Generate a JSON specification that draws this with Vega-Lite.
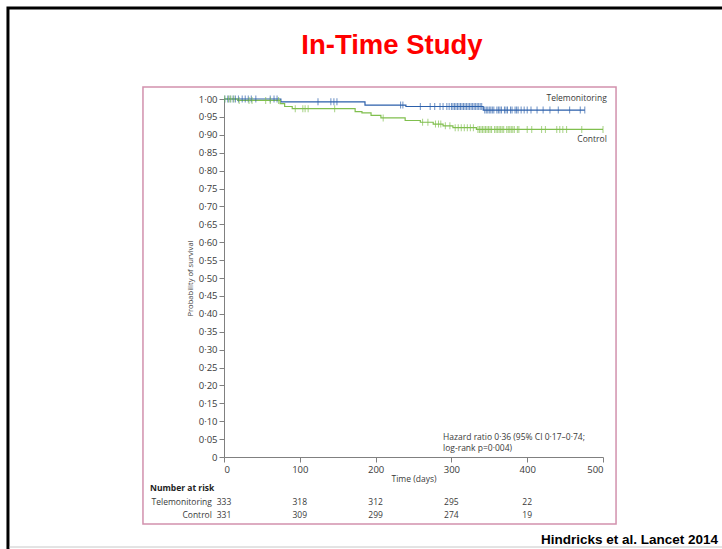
{
  "$schema": "https://vega.github.io/schema/vega-lite/v6.json",
  "autosize": {"type": "none"},
  "padding": {"left": 224, "top": 99, "right": 119, "bottom": 92},
  "width": 379,
  "height": 358,
  "background": "white",
  "config": {"view": {"stroke": null}, "font": "Open Sans"},
  "resolve": {"axis": {"x": "independent", "y": "independent"}},
  "datasets": {
    "curves": [
      {"group": "Telemonitoring", "day": 0, "surv": 1.0},
      {"group": "Telemonitoring", "day": 75, "surv": 0.992},
      {"group": "Telemonitoring", "day": 186, "surv": 0.983},
      {"group": "Telemonitoring", "day": 240, "surv": 0.979},
      {"group": "Telemonitoring", "day": 342, "surv": 0.969},
      {"group": "Telemonitoring", "day": 476, "surv": 0.969},
      {"group": "Control", "day": 0, "surv": 1.0},
      {"group": "Control", "day": 18, "surv": 0.996},
      {"group": "Control", "day": 74, "surv": 0.987},
      {"group": "Control", "day": 80, "surv": 0.979},
      {"group": "Control", "day": 90, "surv": 0.973},
      {"group": "Control", "day": 173, "surv": 0.965},
      {"group": "Control", "day": 182, "surv": 0.961},
      {"group": "Control", "day": 194, "surv": 0.954},
      {"group": "Control", "day": 207, "surv": 0.947},
      {"group": "Control", "day": 239, "surv": 0.94},
      {"group": "Control", "day": 259, "surv": 0.935},
      {"group": "Control", "day": 276, "surv": 0.93},
      {"group": "Control", "day": 289, "surv": 0.925},
      {"group": "Control", "day": 302, "surv": 0.92},
      {"group": "Control", "day": 333, "surv": 0.915},
      {"group": "Control", "day": 500, "surv": 0.915}
    ],
    "censor": [
      {"group": "Telemonitoring", "day": 1, "surv": 1.0},
      {"group": "Telemonitoring", "day": 5, "surv": 1.0},
      {"group": "Telemonitoring", "day": 8, "surv": 1.0},
      {"group": "Telemonitoring", "day": 12, "surv": 1.0},
      {"group": "Telemonitoring", "day": 15, "surv": 1.0},
      {"group": "Telemonitoring", "day": 19, "surv": 1.0},
      {"group": "Telemonitoring", "day": 24, "surv": 1.0},
      {"group": "Telemonitoring", "day": 28, "surv": 1.0},
      {"group": "Telemonitoring", "day": 32, "surv": 1.0},
      {"group": "Telemonitoring", "day": 36, "surv": 1.0},
      {"group": "Telemonitoring", "day": 42, "surv": 1.0},
      {"group": "Telemonitoring", "day": 61, "surv": 1.0},
      {"group": "Telemonitoring", "day": 66, "surv": 1.0},
      {"group": "Telemonitoring", "day": 70, "surv": 1.0},
      {"group": "Telemonitoring", "day": 124, "surv": 0.992},
      {"group": "Telemonitoring", "day": 141, "surv": 0.992},
      {"group": "Telemonitoring", "day": 145, "surv": 0.992},
      {"group": "Telemonitoring", "day": 149, "surv": 0.992},
      {"group": "Telemonitoring", "day": 233, "surv": 0.983},
      {"group": "Telemonitoring", "day": 236, "surv": 0.983},
      {"group": "Telemonitoring", "day": 259, "surv": 0.979},
      {"group": "Telemonitoring", "day": 272, "surv": 0.979},
      {"group": "Telemonitoring", "day": 278, "surv": 0.979},
      {"group": "Telemonitoring", "day": 285, "surv": 0.979},
      {"group": "Telemonitoring", "day": 289, "surv": 0.979},
      {"group": "Telemonitoring", "day": 294, "surv": 0.979},
      {"group": "Telemonitoring", "day": 297, "surv": 0.979},
      {"group": "Telemonitoring", "day": 300, "surv": 0.979},
      {"group": "Telemonitoring", "day": 302, "surv": 0.979},
      {"group": "Telemonitoring", "day": 304, "surv": 0.979},
      {"group": "Telemonitoring", "day": 306, "surv": 0.979},
      {"group": "Telemonitoring", "day": 308, "surv": 0.979},
      {"group": "Telemonitoring", "day": 310, "surv": 0.979},
      {"group": "Telemonitoring", "day": 312, "surv": 0.979},
      {"group": "Telemonitoring", "day": 314, "surv": 0.979},
      {"group": "Telemonitoring", "day": 316, "surv": 0.979},
      {"group": "Telemonitoring", "day": 318, "surv": 0.979},
      {"group": "Telemonitoring", "day": 320, "surv": 0.979},
      {"group": "Telemonitoring", "day": 322, "surv": 0.979},
      {"group": "Telemonitoring", "day": 324, "surv": 0.979},
      {"group": "Telemonitoring", "day": 326, "surv": 0.979},
      {"group": "Telemonitoring", "day": 328, "surv": 0.979},
      {"group": "Telemonitoring", "day": 330, "surv": 0.979},
      {"group": "Telemonitoring", "day": 332, "surv": 0.979},
      {"group": "Telemonitoring", "day": 334, "surv": 0.979},
      {"group": "Telemonitoring", "day": 336, "surv": 0.979},
      {"group": "Telemonitoring", "day": 338, "surv": 0.979},
      {"group": "Telemonitoring", "day": 340, "surv": 0.979},
      {"group": "Telemonitoring", "day": 344, "surv": 0.969},
      {"group": "Telemonitoring", "day": 346, "surv": 0.969},
      {"group": "Telemonitoring", "day": 348, "surv": 0.969},
      {"group": "Telemonitoring", "day": 350, "surv": 0.969},
      {"group": "Telemonitoring", "day": 352, "surv": 0.969},
      {"group": "Telemonitoring", "day": 354, "surv": 0.969},
      {"group": "Telemonitoring", "day": 356, "surv": 0.969},
      {"group": "Telemonitoring", "day": 360, "surv": 0.969},
      {"group": "Telemonitoring", "day": 362, "surv": 0.969},
      {"group": "Telemonitoring", "day": 364, "surv": 0.969},
      {"group": "Telemonitoring", "day": 366, "surv": 0.969},
      {"group": "Telemonitoring", "day": 370, "surv": 0.969},
      {"group": "Telemonitoring", "day": 372, "surv": 0.969},
      {"group": "Telemonitoring", "day": 374, "surv": 0.969},
      {"group": "Telemonitoring", "day": 378, "surv": 0.969},
      {"group": "Telemonitoring", "day": 380, "surv": 0.969},
      {"group": "Telemonitoring", "day": 384, "surv": 0.969},
      {"group": "Telemonitoring", "day": 386, "surv": 0.969},
      {"group": "Telemonitoring", "day": 388, "surv": 0.969},
      {"group": "Telemonitoring", "day": 392, "surv": 0.969},
      {"group": "Telemonitoring", "day": 396, "surv": 0.969},
      {"group": "Telemonitoring", "day": 400, "surv": 0.969},
      {"group": "Telemonitoring", "day": 405, "surv": 0.969},
      {"group": "Telemonitoring", "day": 413, "surv": 0.969},
      {"group": "Telemonitoring", "day": 421, "surv": 0.969},
      {"group": "Telemonitoring", "day": 430, "surv": 0.969},
      {"group": "Telemonitoring", "day": 441, "surv": 0.969},
      {"group": "Telemonitoring", "day": 456, "surv": 0.969},
      {"group": "Telemonitoring", "day": 470, "surv": 0.969},
      {"group": "Telemonitoring", "day": 476, "surv": 0.969},
      {"group": "Control", "day": 1, "surv": 1.0},
      {"group": "Control", "day": 6, "surv": 1.0},
      {"group": "Control", "day": 9, "surv": 1.0},
      {"group": "Control", "day": 13, "surv": 1.0},
      {"group": "Control", "day": 20, "surv": 0.996},
      {"group": "Control", "day": 33, "surv": 0.996},
      {"group": "Control", "day": 37, "surv": 0.996},
      {"group": "Control", "day": 55, "surv": 0.996},
      {"group": "Control", "day": 61, "surv": 0.996},
      {"group": "Control", "day": 72, "surv": 0.996},
      {"group": "Control", "day": 94, "surv": 0.973},
      {"group": "Control", "day": 104, "surv": 0.973},
      {"group": "Control", "day": 107, "surv": 0.973},
      {"group": "Control", "day": 111, "surv": 0.973},
      {"group": "Control", "day": 146, "surv": 0.973},
      {"group": "Control", "day": 210, "surv": 0.947},
      {"group": "Control", "day": 262, "surv": 0.935},
      {"group": "Control", "day": 269, "surv": 0.935},
      {"group": "Control", "day": 279, "surv": 0.93},
      {"group": "Control", "day": 283, "surv": 0.93},
      {"group": "Control", "day": 286, "surv": 0.93},
      {"group": "Control", "day": 292, "surv": 0.925},
      {"group": "Control", "day": 298, "surv": 0.925},
      {"group": "Control", "day": 305, "surv": 0.92},
      {"group": "Control", "day": 309, "surv": 0.92},
      {"group": "Control", "day": 313, "surv": 0.92},
      {"group": "Control", "day": 317, "surv": 0.92},
      {"group": "Control", "day": 321, "surv": 0.92},
      {"group": "Control", "day": 325, "surv": 0.92},
      {"group": "Control", "day": 329, "surv": 0.92},
      {"group": "Control", "day": 335, "surv": 0.915},
      {"group": "Control", "day": 337, "surv": 0.915},
      {"group": "Control", "day": 339, "surv": 0.915},
      {"group": "Control", "day": 341, "surv": 0.915},
      {"group": "Control", "day": 343, "surv": 0.915},
      {"group": "Control", "day": 345, "surv": 0.915},
      {"group": "Control", "day": 347, "surv": 0.915},
      {"group": "Control", "day": 349, "surv": 0.915},
      {"group": "Control", "day": 351, "surv": 0.915},
      {"group": "Control", "day": 353, "surv": 0.915},
      {"group": "Control", "day": 357, "surv": 0.915},
      {"group": "Control", "day": 359, "surv": 0.915},
      {"group": "Control", "day": 361, "surv": 0.915},
      {"group": "Control", "day": 363, "surv": 0.915},
      {"group": "Control", "day": 365, "surv": 0.915},
      {"group": "Control", "day": 367, "surv": 0.915},
      {"group": "Control", "day": 369, "surv": 0.915},
      {"group": "Control", "day": 373, "surv": 0.915},
      {"group": "Control", "day": 375, "surv": 0.915},
      {"group": "Control", "day": 377, "surv": 0.915},
      {"group": "Control", "day": 379, "surv": 0.915},
      {"group": "Control", "day": 381, "surv": 0.915},
      {"group": "Control", "day": 383, "surv": 0.915},
      {"group": "Control", "day": 387, "surv": 0.915},
      {"group": "Control", "day": 389, "surv": 0.915},
      {"group": "Control", "day": 400, "surv": 0.915},
      {"group": "Control", "day": 406, "surv": 0.915},
      {"group": "Control", "day": 419, "surv": 0.915},
      {"group": "Control", "day": 424, "surv": 0.915},
      {"group": "Control", "day": 439, "surv": 0.915},
      {"group": "Control", "day": 443, "surv": 0.915},
      {"group": "Control", "day": 447, "surv": 0.915},
      {"group": "Control", "day": 452, "surv": 0.915},
      {"group": "Control", "day": 472, "surv": 0.915},
      {"group": "Control", "day": 500, "surv": 0.915}
    ],
    "risk": [
      {"group": "Telemonitoring", "day": 0, "n": 333},
      {"group": "Telemonitoring", "day": 100, "n": 318},
      {"group": "Telemonitoring", "day": 200, "n": 312},
      {"group": "Telemonitoring", "day": 300, "n": 295},
      {"group": "Telemonitoring", "day": 400, "n": 22},
      {"group": "Control", "day": 0, "n": 331},
      {"group": "Control", "day": 100, "n": 309},
      {"group": "Control", "day": 200, "n": 299},
      {"group": "Control", "day": 300, "n": 274},
      {"group": "Control", "day": 400, "n": 19}
    ],
    "one": [{}]
  },
  "layer": [
    {
      "data": {"name": "curves"},
      "mark": {"type": "line", "interpolate": "step-after", "strokeWidth": 1.2},
      "encoding": {
        "x": {
          "field": "day", "type": "quantitative",
          "scale": {"domain": [0, 500], "nice": false, "zero": false},
          "axis": {
            "values": [0, 100, 200, 300, 400, 500], "title": "Time (days)", "grid": false,
            "tickSize": 5, "labelPadding": 2, "labelFont": "Open Sans", "labelFontSize": 9.5, "labelColor": "#3a3a3a",
            "titleFont": "Open Sans", "titleFontSize": 8.5, "titleFontWeight": "normal", "titleColor": "#3a3a3a", "titlePadding": 1,
            "domainColor": "#808080", "tickColor": "#808080"
          }
        },
        "y": {
          "field": "surv", "type": "quantitative",
          "scale": {"domain": [0, 1], "nice": false, "zero": false},
          "axis": {
            "values": [0, 0.05, 0.1, 0.15, 0.2, 0.25, 0.3, 0.35, 0.4, 0.45, 0.5, 0.55, 0.6, 0.65, 0.7, 0.75, 0.8, 0.85, 0.9, 0.95, 1.0],
            "labelExpr": "datum.value == 0 ? '0' : replace(format(datum.value, '.2f'), '.', '·')",
            "title": "Probability of survival", "grid": false,
            "tickSize": 5, "labelPadding": 2, "labelFont": "Open Sans", "labelFontSize": 9.5, "labelColor": "#3a3a3a",
            "titleFont": "Open Sans", "titleFontSize": 7.6, "titleFontWeight": "normal", "titleColor": "#3a3a3a", "titlePadding": 4,
            "domainColor": "#808080", "tickColor": "#808080"
          }
        },
        "color": {"field": "group", "type": "nominal", "scale": {"domain": ["Telemonitoring", "Control"], "range": ["#2b5fab", "#80bf4e"]}, "legend": null}
      }
    },
    {
      "data": {"name": "censor"},
      "mark": {"type": "tick", "orient": "vertical", "size": 7, "thickness": 1},
      "encoding": {
        "x": {"field": "day", "type": "quantitative", "scale": {"domain": [0, 500], "nice": false, "zero": false}, "axis": null},
        "y": {"field": "surv", "type": "quantitative", "scale": {"domain": [0, 1], "nice": false, "zero": false}, "axis": null},
        "color": {"field": "group", "type": "nominal", "scale": {"domain": ["Telemonitoring", "Control"], "range": ["#2b5fab", "#80bf4e"]}, "legend": null}
      }
    },
    {
      "data": {"name": "one"},
      "mark": {"type": "rect", "fill": null, "stroke": "#000000", "strokeWidth": 3},
      "encoding": {
        "x": {"datum": -285, "type": "quantitative", "scale": {"domain": [0, 500], "nice": false, "zero": false}, "axis": null},
        "x2": {"datum": 800},
        "y": {"datum": 1.2542, "type": "quantitative", "scale": {"domain": [0, 1], "nice": false, "zero": false}, "axis": null},
        "y2": {"datum": -0.6}
      }
    },
    {
      "data": {"name": "one"},
      "mark": {"type": "rule", "stroke": "#c8c8c8", "strokeWidth": 1},
      "encoding": {
        "x": {"datum": -283, "type": "quantitative", "scale": {"domain": [0, 500], "nice": false, "zero": false}, "axis": null},
        "x2": {"datum": 800},
        "y": {"datum": -0.2514, "type": "quantitative", "scale": {"domain": [0, 1], "nice": false, "zero": false}, "axis": null}
      }
    },
    {
      "data": {"name": "one"},
      "mark": {"type": "rect", "fill": null, "stroke": "#d291ad", "strokeWidth": 1.5},
      "encoding": {
        "x": {"datum": -106.9, "type": "quantitative", "scale": {"domain": [0, 500], "nice": false, "zero": false}, "axis": null},
        "x2": {"datum": 517.2},
        "y": {"datum": 1.0335, "type": "quantitative", "scale": {"domain": [0, 1], "nice": false, "zero": false}, "axis": null},
        "y2": {"datum": -0.187}
      }
    },
    {
      "data": {"name": "one"},
      "mark": {"type": "text", "font": "Liberation Sans", "fontWeight": "bold", "fontSize": 27.5, "color": "#ff0000", "align": "center", "baseline": "middle"},
      "encoding": {
        "x": {"datum": 221.6, "type": "quantitative", "scale": {"domain": [0, 500], "nice": false, "zero": false}, "axis": null},
        "y": {"datum": 1.148, "type": "quantitative", "scale": {"domain": [0, 1], "nice": false, "zero": false}, "axis": null},
        "text": {"value": "In-Time Study"}
      }
    },
    {
      "data": {"name": "one"},
      "mark": {"type": "text", "font": "Liberation Sans", "fontWeight": "bold", "fontSize": 13.5, "color": "#000000", "align": "left", "baseline": "middle"},
      "encoding": {
        "x": {"datum": 418.2, "type": "quantitative", "scale": {"domain": [0, 500], "nice": false, "zero": false}, "axis": null},
        "y": {"datum": -0.2332, "type": "quantitative", "scale": {"domain": [0, 1], "nice": false, "zero": false}, "axis": null},
        "text": {"value": "Hindricks et al. Lancet 2014"}
      }
    },
    {
      "data": {"name": "one"},
      "mark": {"type": "text", "fontSize": 8.5, "color": "#3a3a3a", "align": "right", "baseline": "middle"},
      "encoding": {
        "x": {"datum": 505, "type": "quantitative", "scale": {"domain": [0, 500], "nice": false, "zero": false}, "axis": null},
        "y": {"datum": 1.003, "type": "quantitative", "scale": {"domain": [0, 1], "nice": false, "zero": false}, "axis": null},
        "text": {"value": "Telemonitoring"}
      }
    },
    {
      "data": {"name": "one"},
      "mark": {"type": "text", "fontSize": 8.5, "color": "#3a3a3a", "align": "right", "baseline": "middle"},
      "encoding": {
        "x": {"datum": 505, "type": "quantitative", "scale": {"domain": [0, 500], "nice": false, "zero": false}, "axis": null},
        "y": {"datum": 0.888, "type": "quantitative", "scale": {"domain": [0, 1], "nice": false, "zero": false}, "axis": null},
        "text": {"value": "Control"}
      }
    },
    {
      "data": {"name": "one"},
      "mark": {"type": "text", "fontSize": 8.5, "color": "#3a3a3a", "align": "left", "baseline": "middle"},
      "encoding": {
        "x": {"datum": 289, "type": "quantitative", "scale": {"domain": [0, 500], "nice": false, "zero": false}, "axis": null},
        "y": {"datum": 0.0568, "type": "quantitative", "scale": {"domain": [0, 1], "nice": false, "zero": false}, "axis": null},
        "text": {"value": "Hazard ratio 0·36 (95% CI 0·17–0·74;"}
      }
    },
    {
      "data": {"name": "one"},
      "mark": {"type": "text", "fontSize": 8.5, "color": "#3a3a3a", "align": "left", "baseline": "middle"},
      "encoding": {
        "x": {"datum": 289, "type": "quantitative", "scale": {"domain": [0, 500], "nice": false, "zero": false}, "axis": null},
        "y": {"datum": 0.0243, "type": "quantitative", "scale": {"domain": [0, 1], "nice": false, "zero": false}, "axis": null},
        "text": {"value": "log-rank p=0·004)"}
      }
    },
    {
      "data": {"name": "one"},
      "mark": {"type": "text", "fontSize": 8.5, "fontWeight": "bold", "color": "#222222", "align": "left", "baseline": "middle"},
      "encoding": {
        "x": {"datum": -97.6, "type": "quantitative", "scale": {"domain": [0, 500], "nice": false, "zero": false}, "axis": null},
        "y": {"datum": -0.0875, "type": "quantitative", "scale": {"domain": [0, 1], "nice": false, "zero": false}, "axis": null},
        "text": {"value": "Number at risk"}
      }
    },
    {
      "data": {"name": "one"},
      "mark": {"type": "text", "fontSize": 8.5, "color": "#3a3a3a", "align": "right", "baseline": "middle"},
      "encoding": {
        "x": {"datum": -16, "type": "quantitative", "scale": {"domain": [0, 500], "nice": false, "zero": false}, "axis": null},
        "y": {"datum": -0.1266, "type": "quantitative", "scale": {"domain": [0, 1], "nice": false, "zero": false}, "axis": null},
        "text": {"value": "Telemonitoring"}
      }
    },
    {
      "data": {"name": "one"},
      "mark": {"type": "text", "fontSize": 8.5, "color": "#3a3a3a", "align": "right", "baseline": "middle"},
      "encoding": {
        "x": {"datum": -16, "type": "quantitative", "scale": {"domain": [0, 500], "nice": false, "zero": false}, "axis": null},
        "y": {"datum": -0.162, "type": "quantitative", "scale": {"domain": [0, 1], "nice": false, "zero": false}, "axis": null},
        "text": {"value": "Control"}
      }
    },
    {
      "data": {"name": "risk"},
      "transform": [{"filter": "datum.group == 'Telemonitoring'"}],
      "mark": {"type": "text", "fontSize": 8.5, "color": "#3a3a3a", "align": "center", "baseline": "middle"},
      "encoding": {
        "x": {"field": "day", "type": "quantitative", "scale": {"domain": [0, 500], "nice": false, "zero": false}, "axis": null},
        "y": {"datum": -0.1266, "type": "quantitative", "scale": {"domain": [0, 1], "nice": false, "zero": false}, "axis": null},
        "text": {"field": "n", "type": "quantitative"}
      }
    },
    {
      "data": {"name": "risk"},
      "transform": [{"filter": "datum.group == 'Control'"}],
      "mark": {"type": "text", "fontSize": 8.5, "color": "#3a3a3a", "align": "center", "baseline": "middle"},
      "encoding": {
        "x": {"field": "day", "type": "quantitative", "scale": {"domain": [0, 500], "nice": false, "zero": false}, "axis": null},
        "y": {"datum": -0.162, "type": "quantitative", "scale": {"domain": [0, 1], "nice": false, "zero": false}, "axis": null},
        "text": {"field": "n", "type": "quantitative"}
      }
    }
  ]
}
